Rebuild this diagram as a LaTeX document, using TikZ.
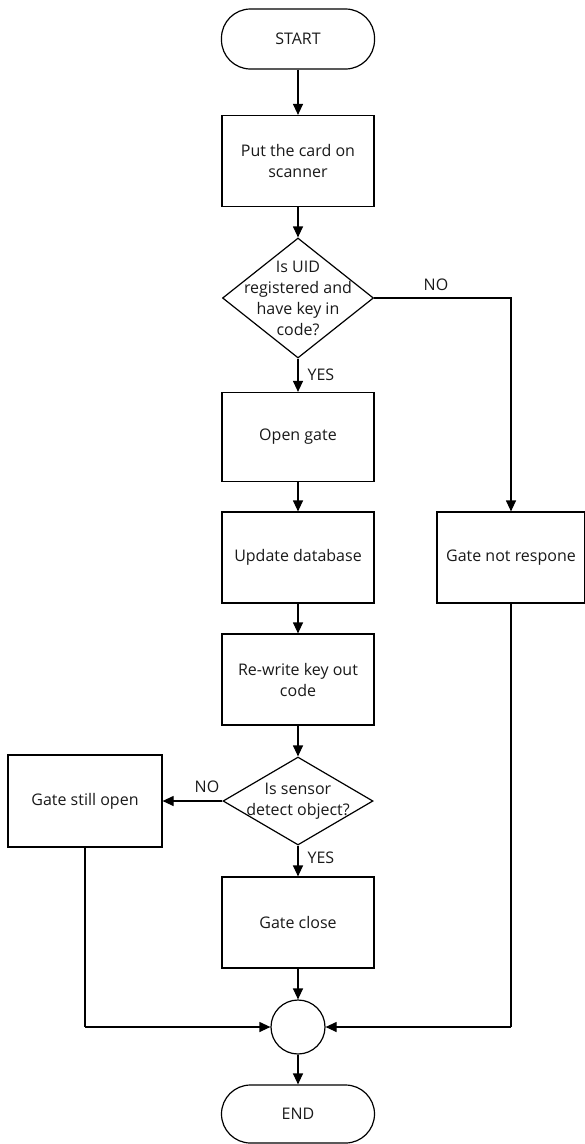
\documentclass[tikz,border=0pt]{standalone}
\usepackage{fontspec}
\setmainfont{Open Sans}
\usetikzlibrary{shapes.geometric,arrows.meta}
\begin{document}
\begin{tikzpicture}[x=1pt,y=-1pt,
  every node/.style={font=\fontsize{16}{21}\selectfont, text=black!90},
  box/.style={draw, line width=1.2pt, inner sep=0pt, minimum width=152pt, minimum height=91pt, align=center},
  term/.style={draw, line width=1.2pt, inner sep=0pt, minimum width=153pt, minimum height=60pt, rounded corners=29pt},
  dec/.style={draw, diamond, line width=1.2pt, inner sep=0pt},
  lbl/.style={align=center, inner sep=0pt},
  arr/.style={line width=1.2pt, -{Triangle[length=11pt,width=10pt]}},
  ln/.style={line width=1.2pt}]
\useasboundingbox (0,0) rectangle (585,1144);
\node[term] (start) at (298,39) {START};
\node[box] (put) at (298,161) {Put the card on\\scanner};
\node[dec, minimum width=151pt, minimum height=120pt] (d1) at (298,298) {};
\node[lbl] (d1t) at (298,298) {Is UID\\registered and\\have key in\\code?};
\node[box, minimum height=89pt] (open) at (298,437) {Open gate};
\node[box] (upd) at (298,557.5) {Update database};
\node[box] (rew) at (298,679.5) {Re-write key out\\code};
\node[dec, minimum width=150pt, minimum height=88pt] (d2) at (298,801) {};
\node[lbl] (d2t) at (298,801) {Is sensor\\detect object?};
\node[box] (close) at (298,922.5) {Gate close};
\node[draw, circle, line width=1.2pt, minimum size=54pt, inner sep=0pt] (join) at (298,1027) {};
\node[term, minimum height=58pt] (end) at (298,1114) {END};
\node[box, minimum width=148pt] (nr) at (511,557.5) {Gate not respone};
\node[box, minimum width=154pt, minimum height=92pt] (still) at (85,801) {Gate still open};
\coordinate (c1) at (511,298);
\coordinate (c2) at (511,1027);
\coordinate (c3) at (85,1027);
\draw[arr] (start) -- (put);
\draw[arr] (put) -- (d1);
\draw[arr] (d1) -- (open) node[pos=0.5, right=9pt, lbl] (y1) {YES};
\draw[arr] (d1.east) -- (c1) -- (nr.north);
\node[lbl] (n1) at (436,285) {NO};
\draw[arr] (open) -- (upd);
\draw[arr] (upd) -- (rew);
\draw[arr] (rew) -- (d2);
\draw[arr] (d2.west) -- (still.east);
\node[lbl] (n2) at (207,787) {NO};
\draw[arr] (d2) -- (close) node[pos=0.4, right=9pt, lbl] (y2) {YES};
\draw[arr] (close) -- (join);
\draw[ln] (still.south -| c3) -- (c3);
\draw[arr] (c3) -- (join.west);
\draw[ln] (nr.south) -- (c2);
\draw[arr] (c2) -- (join.east);
\draw[arr] (join) -- (end);
\end{tikzpicture}
\end{document}
